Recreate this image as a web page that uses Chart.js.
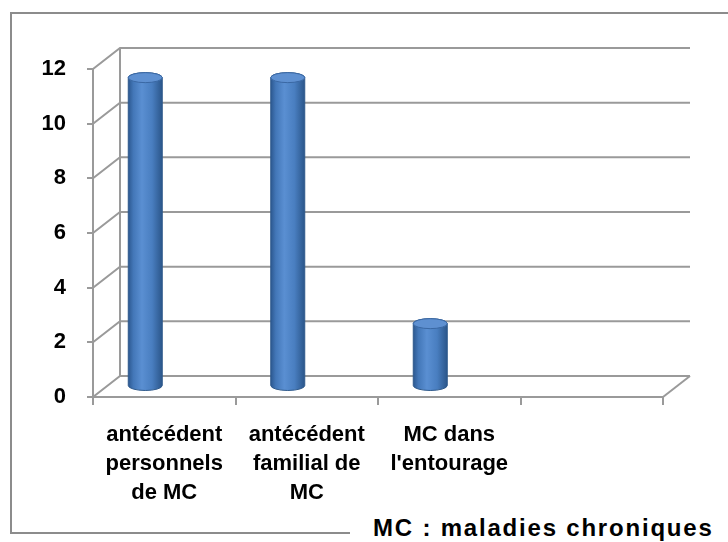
<!DOCTYPE html>
<html>
<head>
<meta charset="utf-8">
<script src="https://cdn.jsdelivr.net/npm/chart.js@4"></script>
<style>
  html, body { margin: 0; padding: 0; background: #fff; }
  #wrap { position: relative; width: 728px; height: 542px; overflow: hidden; }
  #frame { position: absolute; left: 10px; top: 12px; width: 730px; height: 520px;
           border-left: 2px solid #8c8c8c; border-top: 2px solid #8c8c8c; }
  #bottomLine { position: absolute; left: 10px; top: 532px; width: 340px; border-top: 2px solid #8c8c8c; }
  #note { position: absolute; left: 373px; top: 514px; font: bold 24px "Liberation Sans", Arial, sans-serif;
          letter-spacing: 1.8px; color: #000; white-space: pre; }
  canvas { position: absolute; left: 0; top: 0; }
</style>
</head>
<body>
<div id="wrap">
  <div id="frame"></div>
  <div id="bottomLine"></div>
  <div id="note">MC : maladies chroniques</div>
  <canvas id="chart" width="728" height="542"></canvas>
</div>
<script>
// data
const categories = [
    ["antécédent", "personnels", "de MC"],
    ["antécédent", "familial de", "MC"],
    ["MC dans", "l'entourage"],
    ""
];
const values = [11.3, 11.3, 2.3, null];
const yMin = 0, yMax = 12, yStep = 2;

const labelFont = { family: "'Liberation Sans', Arial, sans-serif", size: 22, weight: "bold", lineHeight: 1.3 };
const lineColor = "#9a9a9a";
const depthX = 27, depthY = 21; // fake 3D depth of the walls
const barShift = -19;           // columns sit left of the category centre

// back wall, side wall and floor like the excel 3D chart
const wallPlugin = {
    id: "walls",
    beforeDatasetsDraw(chart) {
        let ctx = chart.ctx;
        let a = chart.chartArea;
        let ys = chart.scales.y;
        ctx.save();
        ctx.strokeStyle = lineColor;
        ctx.lineWidth = 2;
        ys.ticks.forEach(t => {
            let y = ys.getPixelForValue(t.value);
            ctx.beginPath();
            ctx.moveTo(a.left, y);
            ctx.lineTo(a.left + depthX, y - depthY);
            ctx.lineTo(a.right + depthX, y - depthY);
            ctx.stroke();
        });
        ctx.beginPath();
        ctx.moveTo(a.left + depthX, a.top - depthY);
        ctx.lineTo(a.left + depthX, a.bottom - depthY);
        ctx.stroke();
        ctx.beginPath();
        ctx.moveTo(a.right, a.bottom);
        ctx.lineTo(a.right + depthX, a.bottom - depthY);
        ctx.stroke();
        ctx.restore();
    },
    afterDatasetsDraw(chart) {
        let ctx = chart.ctx;
        let meta = chart.getDatasetMeta(0);
        meta.data.forEach((el, i) => {
            if (values[i] == null) return;
            let cx = el.x + barShift;
            let rx = 17, ry = 5;
            let top = el.y - depthY / 2;
            let base = el.base - depthY / 2;
            let g = ctx.createLinearGradient(cx - rx, 0, cx + rx, 0);
            g.addColorStop(0, "#2c5890");
            g.addColorStop(0.15, "#4377b8");
            g.addColorStop(0.4, "#5a8fd2");
            g.addColorStop(0.7, "#497ec0");
            g.addColorStop(1, "#2b568a");
            ctx.save();
            ctx.beginPath();
            ctx.moveTo(cx - rx, top);
            ctx.lineTo(cx - rx, base);
            ctx.ellipse(cx, base, rx, ry, 0, Math.PI, 0, true);
            ctx.lineTo(cx + rx, top);
            ctx.ellipse(cx, top, rx, ry, 0, 0, Math.PI, true);
            ctx.closePath();
            ctx.fillStyle = g;
            ctx.fill();
            ctx.strokeStyle = "#2f5a8c";
            ctx.lineWidth = 1;
            ctx.stroke();
            ctx.beginPath();
            ctx.ellipse(cx, top, rx, ry, 0, 0, Math.PI * 2);
            ctx.fillStyle = "#5e90d1";
            ctx.fill();
            ctx.strokeStyle = "#3a68a4";
            ctx.stroke();
            ctx.restore();
        });
    }
};

new Chart(document.getElementById("chart"), {
    type: "bar",
    data: {
        labels: categories,
        datasets: [{
            data: values,
            backgroundColor: "rgba(0,0,0,0)",
            borderWidth: 0
        }]
    },
    options: {
        responsive: false,
        animation: false,
        layout: { padding: { left: 0, right: 65, top: 69, bottom: 0 } },
        plugins: { legend: { display: false }, tooltip: { enabled: false } },
        scales: {
            x: {
                grid: { display: true, drawOnChartArea: false, offset: true, tickLength: 8, color: lineColor, lineWidth: 2 },
                border: { display: true, color: lineColor, width: 2 },
                ticks: { color: "#000", font: labelFont, padding: 16, maxRotation: 0, autoSkip: false },
                afterFit: s => { s.height = 145; }
            },
            y: {
                min: yMin,
                max: yMax,
                grid: { display: true, drawOnChartArea: false, tickLength: 6, color: lineColor, lineWidth: 2 },
                border: { display: true, color: lineColor, width: 2 },
                ticks: { stepSize: yStep, color: "#000", font: labelFont, padding: 21 },
                afterFit: s => { s.width = 93; }
            }
        }
    },
    plugins: [wallPlugin]
});
</script>
</body>
</html>
